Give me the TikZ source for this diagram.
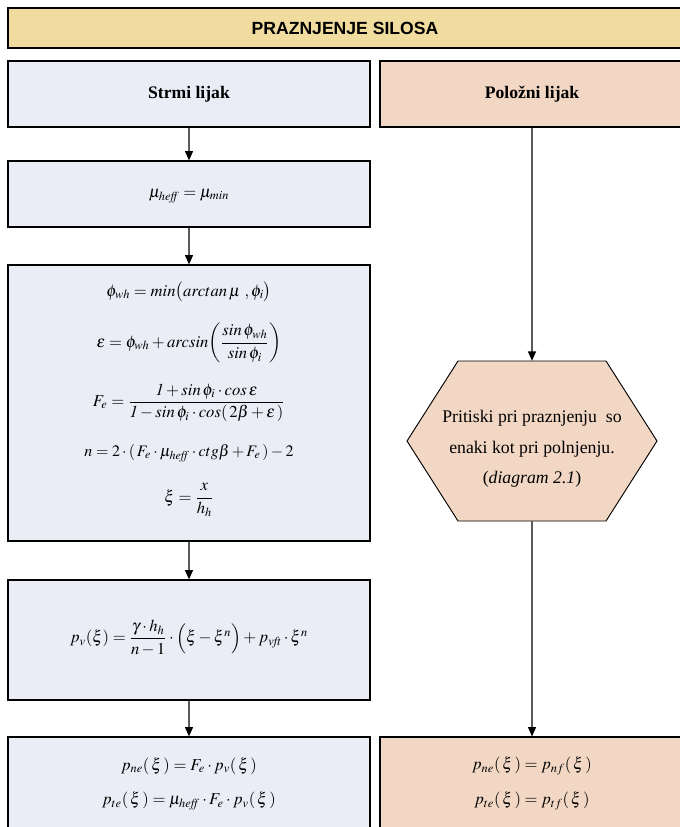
\documentclass[tikz,border=0pt]{standalone}
\usepackage{amsmath}
\usepackage{mathptmx}
\usepackage[no-math]{fontspec}
\setmainfont{Liberation Serif}
\newfontfamily\titlefont{Liberation Sans}
\usetikzlibrary{arrows.meta,calc}
\definecolor{titleF}{RGB}{241,220,160}
\definecolor{blueF}{RGB}{234,237,245}
\definecolor{peachF}{RGB}{241,215,196}
\definecolor{arrowC}{RGB}{90,90,90}
\tikzset{
  box/.style={draw=black, line width=0.9pt, rectangle, inner sep=0pt},
  lbox/.style={box, fill=blueF, minimum width=271.5pt},
  rbox/.style={box, fill=peachF, minimum width=228pt},
  eq/.style={inner sep=0pt, font=\fontsize{12.5}{15}\selectfont},
  flow/.style={draw=arrowC, line width=0.9pt, -{Triangle[length=7pt,width=6pt,color=black]}},
}
\begin{document}
\begin{tikzpicture}[x=0.75pt,y=-0.75pt]
\useasboundingbox (0,0) rectangle (679,827);
% title
\node[box, fill=titleF, minimum width=505.5pt, minimum height=30pt] (title) at (345,28)
  {\titlefont\bfseries\fontsize{13.2}{15}\selectfont PRAZNJENJE SILOSA};
% left column
\node[lbox, minimum height=49.5pt] (s1) at (189,94) {\bfseries\fontsize{13.2}{15}\selectfont Strmi lijak};
\node[lbox, minimum height=49.5pt] (s2) at (189,194) {};
\node[lbox, minimum height=207pt] (s3) at (189,403) {};
\node[lbox, minimum height=90pt] (s4) at (189,640) {};
\node[lbox, minimum height=77.25pt] (s5) at (189,788.5) {};
% right column
\node[rbox, minimum height=49.5pt] (p1) at (532,94) {\bfseries\fontsize{13.2}{15}\selectfont Položni lijak};
\node[minimum width=187.5pt, minimum height=120pt, inner sep=0pt] (hex) at (532,441) {};
\fill[peachF] (458,361) -- (606,361) -- (657,441) -- (606,521) -- (458,521) -- (407,441) -- cycle;
\draw[line width=0.7pt] (458,361) -- (606,361) -- (657,441) -- (606,521) -- (458,521) -- (407,441) -- cycle;
\node[inner sep=0pt, align=center, font=\fontsize{13.3}{23}\selectfont] (hext) at (532,449)
  {Pritiski pri praznjenju\ \ so\\ enaki kot pri polnjenju.\\ (\textit{diagram 2.1})};
\node[rbox, minimum height=77.25pt] (p2) at (532,788.5) {};
% equations
\node[eq] (e0) at (189,196) {$\mu_{\mathit{heff}} = \mu_{\mathit{min}}$};
\node[eq] (e1) at (189,292) {$\phi_{wh} = min\bigl(arctan\,\mu\ ,\phi_i\bigr)$};
\node[eq] (e2) at (189,343) {$\varepsilon = \phi_{wh} + arcsin\!\left(\dfrac{sin\,\phi_{wh}}{sin\,\phi_i}\right)$};
\node[eq] (e3) at (189,403) {$F_e = \dfrac{\mathit{1}+sin\,\phi_i\cdot cos\,\varepsilon}{\mathit{1}-sin\,\phi_i\cdot cos(\,2\beta+\varepsilon\,)}$};
\node[eq, font=\fontsize{12}{15}\selectfont] (e4) at (189,453) {$n = 2\cdot(\,F_e\cdot\mu_{\mathit{heff}}\cdot ctg\beta + F_e\,) - 2$};
\node[eq] (e5) at (189,500) {$\xi = \dfrac{x}{h_h}$};
\node[eq] (e6) at (189,638) {$p_v(\xi) = \dfrac{\gamma\cdot h_h}{n-1}\cdot\Bigl(\xi-\xi^n\Bigr) + p_{\mathit{vft}}\cdot\xi^n$};
\node[eq] (e7) at (189,766) {$p_{ne}(\,\xi\,) = F_e\cdot p_v(\,\xi\,)$};
\node[eq] (e8) at (189,801) {$p_{te}(\,\xi\,) = \mu_{\mathit{heff}}\cdot F_e\cdot p_v(\,\xi\,)$};
\node[eq] (e9) at (532,766) {$p_{ne}(\,\xi\,) = p_{nf}(\,\xi\,)$};
\node[eq] (e10) at (532,801) {$p_{te}(\,\xi\,) = p_{tf}(\,\xi\,)$};
% connectors
\draw[flow] (s1.south) -- (s2.north);
\draw[flow] (s2.south) -- (s3.north);
\draw[flow] (s3.south) -- (s4.north);
\draw[flow] (s4.south) -- (s5.north);
\draw[flow] (p1.south) -- (hex.north);
\draw[flow] (hex.south) -- (p2.north);
\end{tikzpicture}
\end{document}
